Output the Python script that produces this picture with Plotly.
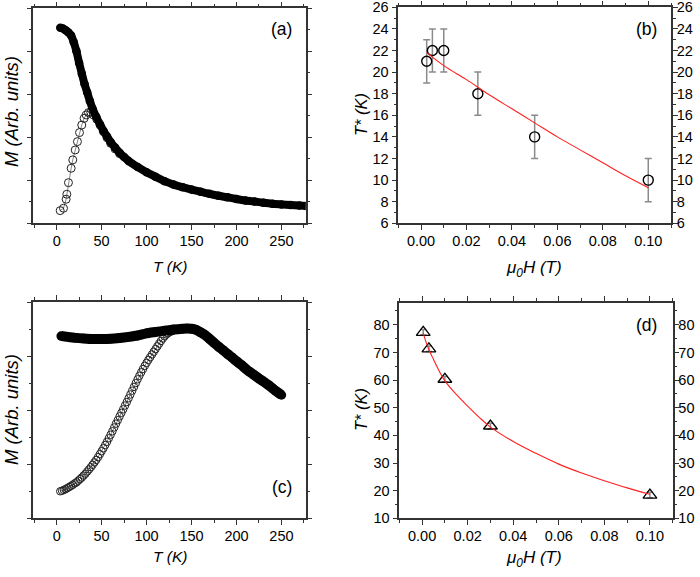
import plotly.graph_objects as go

# ---------------- data ----------------
# (a) FC (filled) and ZFC (open) magnetisation, arbitrary units
a_fc_T = [4, 7, 10, 13, 16, 19, 22, 25, 28, 31, 34, 37, 40, 44, 48, 52, 56, 60, 65, 70, 75, 80,
          90, 100, 110, 120, 130, 140, 150, 160, 170, 180, 190, 200, 210, 220, 230, 240, 250,
          260, 270, 277]
a_fc_M = [9.10, 9.06, 8.98, 8.88, 8.74, 8.42, 8.00, 7.45, 6.96, 6.48, 6.08, 5.68, 5.33, 4.95,
          4.62, 4.30, 4.04, 3.78, 3.52, 3.28, 3.08, 2.90, 2.62, 2.37, 2.16, 1.96, 1.80, 1.68,
          1.57, 1.47, 1.37, 1.28, 1.21, 1.13, 1.06, 1.01, 0.96, 0.91, 0.88, 0.85, 0.83, 0.81]
a_zfc_T = [3.9, 7.6, 10.5, 11.3, 13.1, 16.1, 17.9, 20.6, 23.1, 25.4, 27.9, 30.5, 32.8, 35.4,
           37.9, 40.9, 44.6, 48.3, 52.0, 56.0, 60.0, 65.0, 70.0]
a_zfc_M = [0.59, 0.70, 1.12, 1.35, 1.89, 2.56, 2.95, 3.41, 3.80, 4.22, 4.57, 4.88, 5.04, 5.15,
           5.16, 5.04, 4.84, 4.57, 4.26, 3.98, 3.72, 3.46, 3.24]

# (b) T* vs field with error bars and fit
b_H = [0.0025, 0.005, 0.01, 0.025, 0.05, 0.10]
b_T = [21, 22, 22, 18, 14, 10]
b_err = [2, 2, 2, 2, 2, 2]
b_fit_H = [0.0025, 0.01, 0.02, 0.03, 0.04, 0.05, 0.06, 0.07, 0.08, 0.09, 0.10]
b_fit_T = [21.8, 20.6, 19.3, 17.9, 16.6, 15.3, 14.0, 12.8, 11.6, 10.4, 9.3]

# (c) FC (filled) and ZFC (open)
c_fc_T = [5, 10, 20, 30, 40, 50, 60, 70, 80, 90, 100, 110, 120, 130, 140, 145, 150, 155, 160,
          165, 170, 175, 180, 185, 190, 195, 200, 205, 210, 215, 220, 225, 230, 235, 240, 245, 250]
c_fc_M = [6.74, 6.72, 6.68, 6.65, 6.63, 6.63, 6.64, 6.67, 6.71, 6.76, 6.84, 6.89, 6.94, 6.98,
          7.01, 7.02, 7.01, 6.97, 6.88, 6.78, 6.64, 6.49, 6.35, 6.22, 6.08, 5.95, 5.81, 5.68,
          5.54, 5.41, 5.29, 5.17, 5.06, 4.94, 4.81, 4.68, 4.56]
c_zfc_T = [4, 6, 8, 10, 12, 14, 16, 18, 20, 22, 24, 26, 28, 30, 32, 34, 36, 38, 40, 42, 44, 46,
           48, 50, 52, 54, 56, 58, 60, 62, 64, 66, 68, 70, 72, 74, 76, 78, 80, 82, 84, 86, 88,
           90, 92, 94, 96, 98, 100, 102, 104, 106, 108, 110, 112, 114, 116, 118, 120, 122, 124,
           126, 128, 130, 132, 134, 136, 138, 140]
c_zfc_M = [1.00, 1.02, 1.05, 1.08, 1.12, 1.16, 1.20, 1.24, 1.29, 1.33, 1.39, 1.45, 1.51, 1.58,
           1.65, 1.73, 1.81, 1.89, 1.98, 2.07, 2.16, 2.26, 2.37, 2.48, 2.59, 2.71, 2.83, 2.96,
           3.09, 3.22, 3.36, 3.50, 3.63, 3.77, 3.90, 4.03, 4.17, 4.30, 4.44, 4.58, 4.72, 4.86,
           5.00, 5.14, 5.27, 5.40, 5.52, 5.64, 5.75, 5.86, 5.96, 6.06, 6.16, 6.26, 6.36, 6.46,
           6.56, 6.65, 6.73, 6.80, 6.85, 6.89, 6.92, 6.95, 6.97, 6.98, 6.99, 7.00, 7.01]

# (d) T* vs field with error bars and fit
d_H = [0.0005, 0.003, 0.01, 0.03, 0.10]
d_T = [77.3, 71.3, 60.3, 43.4, 18.4]
d_err = [1, 1, 1, 1, 1]
d_fit_H = [0.0005, 0.0025, 0.005, 0.0075, 0.01, 0.015, 0.02, 0.025, 0.03, 0.04, 0.05, 0.06,
           0.07, 0.08, 0.09, 0.10]
d_fit_T = [77.0, 72.0, 67.5, 63.3, 59.7, 54.8, 50.6, 46.6, 43.0, 37.8, 33.5, 29.6, 26.4, 23.6,
           21.0, 18.7]

# ---------------- figure ----------------
W, H = 700, 577
FONT = "Arial, Liberation Sans, sans-serif"
AX = "#333333"
RED = "#ff2020"
TICKSIZE = 14.5


def clamp(v):
    return min(1.0, max(0.0, v))


def px_x(a, b):
    return [clamp(a / W), clamp(b / W)]


def px_y(top, bottom):
    return [clamp(1 - bottom / H), clamp(1 - top / H)]


fig = go.Figure()

# (a)
fig.add_trace(go.Scatter(x=a_zfc_T, y=a_zfc_M, mode="lines+markers", xaxis="x", yaxis="y",
                         line=dict(color="#666666", width=0.8),
                         marker=dict(symbol="circle-open", size=8, color="#222222",
                                     line=dict(width=1))))
fig.add_trace(go.Scatter(x=a_fc_T, y=a_fc_M, mode="lines+markers", xaxis="x", yaxis="y",
                         line=dict(color="black", width=8, shape="spline", smoothing=0.6),
                         marker=dict(symbol="circle", size=8.5, color="black")))
# (c)
fig.add_trace(go.Scatter(x=c_zfc_T, y=c_zfc_M, mode="lines+markers", xaxis="x3", yaxis="y3",
                         line=dict(color="#666666", width=0.8),
                         marker=dict(symbol="circle-open", size=7.5, color="#222222",
                                     line=dict(width=1))))
fig.add_trace(go.Scatter(x=c_fc_T, y=c_fc_M, mode="lines+markers", xaxis="x3", yaxis="y3",
                         line=dict(color="black", width=10, shape="spline", smoothing=0.6),
                         marker=dict(symbol="circle", size=9.5, color="black")))
# (b)
fig.add_trace(go.Scatter(x=b_fit_H, y=b_fit_T, mode="lines", xaxis="x2", yaxis="y5",
                         line=dict(color=RED, width=1.1, shape="spline")))
fig.add_trace(go.Scatter(x=b_H, y=b_T, mode="markers", xaxis="x2", yaxis="y2",
                         error_y=dict(type="data", array=b_err, color="#8a8a8a", thickness=1.5,
                                      width=3.5),
                         marker=dict(symbol="circle-open", size=10, color="black",
                                     line=dict(width=1.4))))
# (d)
fig.add_trace(go.Scatter(x=d_fit_H, y=d_fit_T, mode="lines", xaxis="x4", yaxis="y6",
                         line=dict(color=RED, width=1.1, shape="spline")))
fig.add_trace(go.Scatter(x=d_H, y=d_T, mode="markers", xaxis="x4", yaxis="y4",
                         error_y=dict(type="data", array=d_err, color="#8a8a8a", thickness=1.5,
                                      width=3),
                         marker=dict(symbol="triangle-up-open", size=12, color="black",
                                     line=dict(width=1.3))))

tickfont = dict(family=FONT, size=TICKSIZE, color="black")


def common(domain, rng, dtick, mdtick, anchor, mirror):
    return dict(domain=domain, range=rng, anchor=anchor, dtick=dtick, tick0=0,
                automargin=False, ticklabeloverflow="allow",
                showline=True, linecolor=AX, linewidth=1.5, mirror=mirror,
                ticks="outside", ticklen=5, tickwidth=1.3, tickcolor=AX,
                minor=dict(dtick=mdtick, tick0=0, ticks="outside", ticklen=3, tickwidth=1.1,
                           tickcolor=AX, showgrid=False),
                showgrid=False, zeroline=False, tickfont=tickfont)


def xax(domain, rng, dtick, mdtick, anchor, fmt=None):
    d = common(domain, rng, dtick, mdtick, anchor, "ticks")
    d["ticklabelstandoff"] = -1
    if fmt:
        d["tickformat"] = fmt
    return d


def yax(domain, rng, dtick, mdtick, anchor, labels=True, mirror="ticks"):
    d = common(domain, rng, dtick, mdtick, anchor, mirror)
    d["showticklabels"] = labels
    return d


a_xd, a_yd = px_x(33.3, 305.7), px_y(8.3, 223.3)
b_xd, b_yd = px_x(398.3, 671.0), px_y(7.3, 223.3)
c_xd, c_yd = px_x(33.3, 305.7), px_y(302.0, 518.3)
d_xd, d_yd = px_x(399.3, 672.7), px_y(302.7, 518.3)

layout = dict(
    template="none",
    width=W, height=H, margin=dict(l=0, r=0, t=0, b=0, pad=0),
    paper_bgcolor="white", plot_bgcolor="white", showlegend=False,
    font=dict(family=FONT, color="black"),
    xaxis=xax(a_xd, [-26, 277], 50, 25, "y"),
    yaxis=yax(a_yd, [0, 10], 2, 1, "x", labels=False),
    xaxis2=xax(b_xd, [-0.01, 0.11], 0.02, 0.01, "y2", fmt=".2f"),
    yaxis2=yax(b_yd, [6, 26], 2, 1, "x2", mirror=False),
    xaxis3=xax(c_xd, [-26, 277], 50, 25, "y3"),
    yaxis3=yax(c_yd, [0, 8], 2, 1, "x3", labels=False),
    xaxis4=xax(d_xd, [-0.01, 0.11], 0.02, 0.01, "y4", fmt=".2f"),
    yaxis4=yax(d_yd, [10, 88], 10, 5, "x4", mirror=False),
)
y5 = yax(b_yd, [6, 26], 2, 1, "x2", mirror=False)
y5.update(overlaying="y2", side="right", ticklabelstandoff=-4)
y6 = yax(d_yd, [10, 88], 10, 5, "x4", mirror=False)
y6.update(overlaying="y4", side="right", ticklabelstandoff=-4)
layout["yaxis5"] = y5
layout["yaxis6"] = y6
fig.update_layout(**layout)

ann = [
    dict(x=170, y=266, text="<i>T (K)</i>", size=15.5),
    dict(x=170, y=556, text="<i>T (K)</i>", size=15.5),
    dict(x=534, y=269, text="<i>μ<sub>0</sub>H (T)</i>", size=17),
    dict(x=534, y=559, text="<i>μ<sub>0</sub>H (T)</i>", size=17),
    dict(x=11, y=112, text="<i>M (Arb. units)</i>", size=18.5, textangle=-90),
    dict(x=11, y=410, text="<i>M (Arb. units)</i>", size=18.5, textangle=-90),
    dict(x=361, y=115, text="<i>T* (K)</i>", size=16.5, textangle=-90),
    dict(x=361, y=410, text="<i>T* (K)</i>", size=16.5, textangle=-90),
    dict(x=281.5, y=28.5, text="(a)", size=17.5),
    dict(x=646.5, y=28.5, text="(b)", size=17.5),
    dict(x=281.5, y=486.5, text="(c)", size=17.5),
    dict(x=646.5, y=325, text="(d)", size=17.5),
]
annotations = []
for a in ann:
    annotations.append(dict(xref="paper", yref="paper", x=a["x"] / W, y=1 - a["y"] / H,
                            text=a["text"], showarrow=False, xanchor="center",
                            yanchor="middle", textangle=a.get("textangle", 0),
                            font=dict(family=FONT, size=a["size"], color="black")))
fig.update_layout(annotations=annotations)

# the exported page has the browser's default 8px body margin; remove it so the
# 700x577 figure fills the window exactly
fig.write_html("out.html", config={"displayModeBar": False},
               post_script="document.body.style.margin='0';")
